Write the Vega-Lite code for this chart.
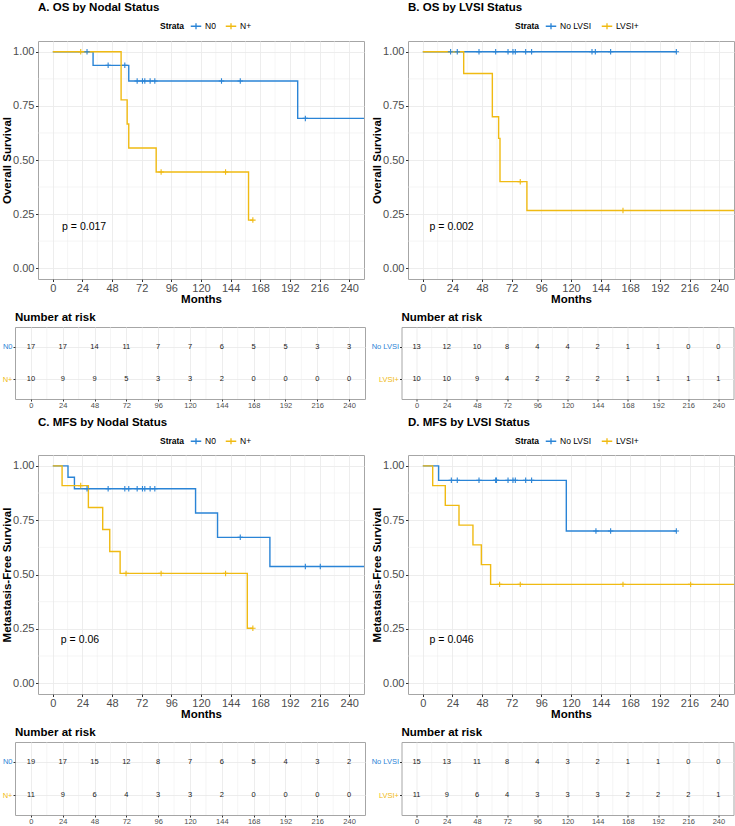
{
  "$schema": "https://vega.github.io/schema/vega-lite/v6.json",
  "padding": {"left": 0, "top": 1, "right": 0, "bottom": 0},
  "config": {
    "font": "Liberation Sans",
    "view": {"stroke": "#A6A6A6", "strokeWidth": 1},
    "title": {"fontSize": 11.5, "fontWeight": "bold", "color": "#000000", "font": "Liberation Sans"},
    "axis": {"labelFont": "Liberation Sans", "titleFont": "Liberation Sans", "domain": false, "gridColor": "#EBEBEB", "gridWidth": 0.9, "tickColor": "#333333", "labelColor": "#4D4D4D", "titleColor": "#000000", "titleFontWeight": "bold", "labelOverlap": false, "labelFlush": false},
    "legend": {"labelFont": "Liberation Sans", "titleFont": "Liberation Sans"}
  },
  "datasets": {
    "minorT": [{"m": 12}, {"m": 36}, {"m": 60}, {"m": 84}, {"m": 108}, {"m": 132}, {"m": 156}, {"m": 180}, {"m": 204}, {"m": 228}],
    "minorS": [{"m": 0.125}, {"m": 0.375}, {"m": 0.625}, {"m": 0.875}],
    "km": [
      {"p": "A", "g": "N0", "t": 0, "s": 1, "c": 0},
      {"p": "A", "g": "N0", "t": 27.7, "s": 1, "c": 1},
      {"p": "A", "g": "N0", "t": 32.6, "s": 0.9375, "c": 0},
      {"p": "A", "g": "N0", "t": 44.8, "s": 0.9375, "c": 1},
      {"p": "A", "g": "N0", "t": 58.3, "s": 0.9375, "c": 1},
      {"p": "A", "g": "N0", "t": 61.5, "s": 0.8654, "c": 0},
      {"p": "A", "g": "N0", "t": 68.3, "s": 0.8654, "c": 1},
      {"p": "A", "g": "N0", "t": 72.6, "s": 0.8654, "c": 1},
      {"p": "A", "g": "N0", "t": 74.5, "s": 0.8654, "c": 1},
      {"p": "A", "g": "N0", "t": 78.8, "s": 0.8654, "c": 1},
      {"p": "A", "g": "N0", "t": 82.6, "s": 0.8654, "c": 1},
      {"p": "A", "g": "N0", "t": 136.6, "s": 0.8654, "c": 1},
      {"p": "A", "g": "N0", "t": 151.8, "s": 0.8654, "c": 1},
      {"p": "A", "g": "N0", "t": 198.3, "s": 0.6923, "c": 0},
      {"p": "A", "g": "N0", "t": 204.5, "s": 0.6923, "c": 1},
      {"p": "A", "g": "N0", "t": 260, "s": 0.6923, "c": 1},
      {"p": "A", "g": "N+", "t": 0, "s": 1, "c": 0},
      {"p": "A", "g": "N+", "t": 22.6, "s": 1, "c": 1},
      {"p": "A", "g": "N+", "t": 55.3, "s": 0.7778, "c": 0},
      {"p": "A", "g": "N+", "t": 60.2, "s": 0.6667, "c": 0},
      {"p": "A", "g": "N+", "t": 61.5, "s": 0.5556, "c": 0},
      {"p": "A", "g": "N+", "t": 83.7, "s": 0.4444, "c": 0},
      {"p": "A", "g": "N+", "t": 87.7, "s": 0.4444, "c": 1},
      {"p": "A", "g": "N+", "t": 139.9, "s": 0.4444, "c": 1},
      {"p": "A", "g": "N+", "t": 158.5, "s": 0.2222, "c": 0},
      {"p": "A", "g": "N+", "t": 162.0, "s": 0.2222, "c": 1},
      {"p": "B", "g": "No LVSI", "t": 0, "s": 1, "c": 0},
      {"p": "B", "g": "No LVSI", "t": 22.5, "s": 1, "c": 1},
      {"p": "B", "g": "No LVSI", "t": 27.9, "s": 1, "c": 1},
      {"p": "B", "g": "No LVSI", "t": 45.5, "s": 1, "c": 1},
      {"p": "B", "g": "No LVSI", "t": 59.0, "s": 1, "c": 1},
      {"p": "B", "g": "No LVSI", "t": 69.0, "s": 1, "c": 1},
      {"p": "B", "g": "No LVSI", "t": 73.0, "s": 1, "c": 1},
      {"p": "B", "g": "No LVSI", "t": 74.9, "s": 1, "c": 1},
      {"p": "B", "g": "No LVSI", "t": 83.3, "s": 1, "c": 1},
      {"p": "B", "g": "No LVSI", "t": 88.1, "s": 1, "c": 1},
      {"p": "B", "g": "No LVSI", "t": 137.0, "s": 1, "c": 1},
      {"p": "B", "g": "No LVSI", "t": 139.7, "s": 1, "c": 1},
      {"p": "B", "g": "No LVSI", "t": 152.1, "s": 1, "c": 1},
      {"p": "B", "g": "No LVSI", "t": 205.3, "s": 1, "c": 1},
      {"p": "B", "g": "LVSI+", "t": 0, "s": 1, "c": 0},
      {"p": "B", "g": "LVSI+", "t": 33.1, "s": 0.9, "c": 0},
      {"p": "B", "g": "LVSI+", "t": 56.3, "s": 0.7, "c": 0},
      {"p": "B", "g": "LVSI+", "t": 61.4, "s": 0.6, "c": 0},
      {"p": "B", "g": "LVSI+", "t": 62.5, "s": 0.4, "c": 0},
      {"p": "B", "g": "LVSI+", "t": 78.9, "s": 0.4, "c": 1},
      {"p": "B", "g": "LVSI+", "t": 84.3, "s": 0.2667, "c": 0},
      {"p": "B", "g": "LVSI+", "t": 162.1, "s": 0.2667, "c": 1},
      {"p": "B", "g": "LVSI+", "t": 260, "s": 0.2667, "c": 1},
      {"p": "C", "g": "N0", "t": 0, "s": 1, "c": 0},
      {"p": "C", "g": "N0", "t": 12.3, "s": 0.9474, "c": 0},
      {"p": "C", "g": "N0", "t": 17.5, "s": 0.8947, "c": 0},
      {"p": "C", "g": "N0", "t": 27.7, "s": 0.8947, "c": 1},
      {"p": "C", "g": "N0", "t": 44.8, "s": 0.8947, "c": 1},
      {"p": "C", "g": "N0", "t": 58.3, "s": 0.8947, "c": 1},
      {"p": "C", "g": "N0", "t": 61.5, "s": 0.8947, "c": 1},
      {"p": "C", "g": "N0", "t": 68.3, "s": 0.8947, "c": 1},
      {"p": "C", "g": "N0", "t": 72.6, "s": 0.8947, "c": 1},
      {"p": "C", "g": "N0", "t": 74.5, "s": 0.8947, "c": 1},
      {"p": "C", "g": "N0", "t": 78.8, "s": 0.8947, "c": 1},
      {"p": "C", "g": "N0", "t": 82.6, "s": 0.8947, "c": 1},
      {"p": "C", "g": "N0", "t": 115.6, "s": 0.7829, "c": 0},
      {"p": "C", "g": "N0", "t": 133.4, "s": 0.6711, "c": 0},
      {"p": "C", "g": "N0", "t": 151.8, "s": 0.6711, "c": 1},
      {"p": "C", "g": "N0", "t": 175.8, "s": 0.5368, "c": 0},
      {"p": "C", "g": "N0", "t": 204.5, "s": 0.5368, "c": 1},
      {"p": "C", "g": "N0", "t": 216.6, "s": 0.5368, "c": 1},
      {"p": "C", "g": "N0", "t": 260, "s": 0.5368, "c": 1},
      {"p": "C", "g": "N+", "t": 0, "s": 1, "c": 0},
      {"p": "C", "g": "N+", "t": 7.5, "s": 0.9091, "c": 0},
      {"p": "C", "g": "N+", "t": 22.6, "s": 0.9091, "c": 1},
      {"p": "C", "g": "N+", "t": 28.8, "s": 0.8081, "c": 0},
      {"p": "C", "g": "N+", "t": 40.4, "s": 0.7071, "c": 0},
      {"p": "C", "g": "N+", "t": 46.1, "s": 0.6061, "c": 0},
      {"p": "C", "g": "N+", "t": 54.5, "s": 0.5051, "c": 0},
      {"p": "C", "g": "N+", "t": 59.3, "s": 0.5051, "c": 1},
      {"p": "C", "g": "N+", "t": 87.7, "s": 0.5051, "c": 1},
      {"p": "C", "g": "N+", "t": 139.9, "s": 0.5051, "c": 1},
      {"p": "C", "g": "N+", "t": 157.5, "s": 0.2525, "c": 0},
      {"p": "C", "g": "N+", "t": 162.0, "s": 0.2525, "c": 1},
      {"p": "D", "g": "No LVSI", "t": 0, "s": 1, "c": 0},
      {"p": "D", "g": "No LVSI", "t": 12.8, "s": 0.9333, "c": 0},
      {"p": "D", "g": "No LVSI", "t": 23.1, "s": 0.9333, "c": 1},
      {"p": "D", "g": "No LVSI", "t": 27.9, "s": 0.9333, "c": 1},
      {"p": "D", "g": "No LVSI", "t": 45.5, "s": 0.9333, "c": 1},
      {"p": "D", "g": "No LVSI", "t": 59.0, "s": 0.9333, "c": 1},
      {"p": "D", "g": "No LVSI", "t": 59.6, "s": 0.9333, "c": 1},
      {"p": "D", "g": "No LVSI", "t": 69.0, "s": 0.9333, "c": 1},
      {"p": "D", "g": "No LVSI", "t": 73.0, "s": 0.9333, "c": 1},
      {"p": "D", "g": "No LVSI", "t": 74.9, "s": 0.9333, "c": 1},
      {"p": "D", "g": "No LVSI", "t": 83.3, "s": 0.9333, "c": 1},
      {"p": "D", "g": "No LVSI", "t": 88.1, "s": 0.9333, "c": 1},
      {"p": "D", "g": "No LVSI", "t": 116.2, "s": 0.7, "c": 0},
      {"p": "D", "g": "No LVSI", "t": 140.2, "s": 0.7, "c": 1},
      {"p": "D", "g": "No LVSI", "t": 152.1, "s": 0.7, "c": 1},
      {"p": "D", "g": "No LVSI", "t": 205.3, "s": 0.7, "c": 1},
      {"p": "D", "g": "LVSI+", "t": 0, "s": 1, "c": 0},
      {"p": "D", "g": "LVSI+", "t": 8.0, "s": 0.9091, "c": 0},
      {"p": "D", "g": "LVSI+", "t": 18.2, "s": 0.8182, "c": 0},
      {"p": "D", "g": "LVSI+", "t": 29.3, "s": 0.7273, "c": 0},
      {"p": "D", "g": "LVSI+", "t": 40.6, "s": 0.6364, "c": 0},
      {"p": "D", "g": "LVSI+", "t": 47.4, "s": 0.5455, "c": 0},
      {"p": "D", "g": "LVSI+", "t": 54.9, "s": 0.4545, "c": 0},
      {"p": "D", "g": "LVSI+", "t": 62.2, "s": 0.4545, "c": 1},
      {"p": "D", "g": "LVSI+", "t": 78.9, "s": 0.4545, "c": 1},
      {"p": "D", "g": "LVSI+", "t": 162.1, "s": 0.4545, "c": 1},
      {"p": "D", "g": "LVSI+", "t": 216.9, "s": 0.4545, "c": 1},
      {"p": "D", "g": "LVSI+", "t": 260, "s": 0.4545, "c": 1}
    ],
    "risk": [
      {"p": "A", "g": "N0", "t": 0, "n": 17}, {"p": "A", "g": "N0", "t": 24, "n": 17}, {"p": "A", "g": "N0", "t": 48, "n": 14}, {"p": "A", "g": "N0", "t": 72, "n": 11}, {"p": "A", "g": "N0", "t": 96, "n": 7}, {"p": "A", "g": "N0", "t": 120, "n": 7}, {"p": "A", "g": "N0", "t": 144, "n": 6}, {"p": "A", "g": "N0", "t": 168, "n": 5}, {"p": "A", "g": "N0", "t": 192, "n": 5}, {"p": "A", "g": "N0", "t": 216, "n": 3}, {"p": "A", "g": "N0", "t": 240, "n": 3},
      {"p": "A", "g": "N+", "t": 0, "n": 10}, {"p": "A", "g": "N+", "t": 24, "n": 9}, {"p": "A", "g": "N+", "t": 48, "n": 9}, {"p": "A", "g": "N+", "t": 72, "n": 5}, {"p": "A", "g": "N+", "t": 96, "n": 3}, {"p": "A", "g": "N+", "t": 120, "n": 3}, {"p": "A", "g": "N+", "t": 144, "n": 2}, {"p": "A", "g": "N+", "t": 168, "n": 0}, {"p": "A", "g": "N+", "t": 192, "n": 0}, {"p": "A", "g": "N+", "t": 216, "n": 0}, {"p": "A", "g": "N+", "t": 240, "n": 0},
      {"p": "B", "g": "No LVSI", "t": 0, "n": 13}, {"p": "B", "g": "No LVSI", "t": 24, "n": 12}, {"p": "B", "g": "No LVSI", "t": 48, "n": 10}, {"p": "B", "g": "No LVSI", "t": 72, "n": 8}, {"p": "B", "g": "No LVSI", "t": 96, "n": 4}, {"p": "B", "g": "No LVSI", "t": 120, "n": 4}, {"p": "B", "g": "No LVSI", "t": 144, "n": 2}, {"p": "B", "g": "No LVSI", "t": 168, "n": 1}, {"p": "B", "g": "No LVSI", "t": 192, "n": 1}, {"p": "B", "g": "No LVSI", "t": 216, "n": 0}, {"p": "B", "g": "No LVSI", "t": 240, "n": 0},
      {"p": "B", "g": "LVSI+", "t": 0, "n": 10}, {"p": "B", "g": "LVSI+", "t": 24, "n": 10}, {"p": "B", "g": "LVSI+", "t": 48, "n": 9}, {"p": "B", "g": "LVSI+", "t": 72, "n": 4}, {"p": "B", "g": "LVSI+", "t": 96, "n": 2}, {"p": "B", "g": "LVSI+", "t": 120, "n": 2}, {"p": "B", "g": "LVSI+", "t": 144, "n": 2}, {"p": "B", "g": "LVSI+", "t": 168, "n": 1}, {"p": "B", "g": "LVSI+", "t": 192, "n": 1}, {"p": "B", "g": "LVSI+", "t": 216, "n": 1}, {"p": "B", "g": "LVSI+", "t": 240, "n": 1},
      {"p": "C", "g": "N0", "t": 0, "n": 19}, {"p": "C", "g": "N0", "t": 24, "n": 17}, {"p": "C", "g": "N0", "t": 48, "n": 15}, {"p": "C", "g": "N0", "t": 72, "n": 12}, {"p": "C", "g": "N0", "t": 96, "n": 8}, {"p": "C", "g": "N0", "t": 120, "n": 7}, {"p": "C", "g": "N0", "t": 144, "n": 6}, {"p": "C", "g": "N0", "t": 168, "n": 5}, {"p": "C", "g": "N0", "t": 192, "n": 4}, {"p": "C", "g": "N0", "t": 216, "n": 3}, {"p": "C", "g": "N0", "t": 240, "n": 2},
      {"p": "C", "g": "N+", "t": 0, "n": 11}, {"p": "C", "g": "N+", "t": 24, "n": 9}, {"p": "C", "g": "N+", "t": 48, "n": 6}, {"p": "C", "g": "N+", "t": 72, "n": 4}, {"p": "C", "g": "N+", "t": 96, "n": 3}, {"p": "C", "g": "N+", "t": 120, "n": 3}, {"p": "C", "g": "N+", "t": 144, "n": 2}, {"p": "C", "g": "N+", "t": 168, "n": 0}, {"p": "C", "g": "N+", "t": 192, "n": 0}, {"p": "C", "g": "N+", "t": 216, "n": 0}, {"p": "C", "g": "N+", "t": 240, "n": 0},
      {"p": "D", "g": "No LVSI", "t": 0, "n": 15}, {"p": "D", "g": "No LVSI", "t": 24, "n": 13}, {"p": "D", "g": "No LVSI", "t": 48, "n": 11}, {"p": "D", "g": "No LVSI", "t": 72, "n": 8}, {"p": "D", "g": "No LVSI", "t": 96, "n": 4}, {"p": "D", "g": "No LVSI", "t": 120, "n": 3}, {"p": "D", "g": "No LVSI", "t": 144, "n": 2}, {"p": "D", "g": "No LVSI", "t": 168, "n": 1}, {"p": "D", "g": "No LVSI", "t": 192, "n": 1}, {"p": "D", "g": "No LVSI", "t": 216, "n": 0}, {"p": "D", "g": "No LVSI", "t": 240, "n": 0},
      {"p": "D", "g": "LVSI+", "t": 0, "n": 11}, {"p": "D", "g": "LVSI+", "t": 24, "n": 9}, {"p": "D", "g": "LVSI+", "t": 48, "n": 6}, {"p": "D", "g": "LVSI+", "t": 72, "n": 4}, {"p": "D", "g": "LVSI+", "t": 96, "n": 3}, {"p": "D", "g": "LVSI+", "t": 120, "n": 3}, {"p": "D", "g": "LVSI+", "t": 144, "n": 3}, {"p": "D", "g": "LVSI+", "t": 168, "n": 2}, {"p": "D", "g": "LVSI+", "t": 192, "n": 2}, {"p": "D", "g": "LVSI+", "t": 216, "n": 2}, {"p": "D", "g": "LVSI+", "t": 240, "n": 1}
    ]
  },
  "resolve": {"scale": {"color": "independent"}, "legend": {"color": "independent"}},
  "columns": 2,
  "align": "none",
  "spacing": {"row": 6, "column": 0},
  "concat": [
    {"width": 1, "height": 1, "view": {"stroke": null}, "data": {"values": [{}]}, "mark": {"type": "rect", "opacity": 0}, "encoding": {}},
    {
      "resolve": {"scale": {"color": "independent"}, "legend": {"color": "independent"}},
      "spacing": 6,
      "hconcat": [
        {
          "width": 326, "height": 238,
          "title": {"text": "A. OS by Nodal Status", "anchor": "start", "frame": "group", "offset": 7},
          "layer": [
            {"data": {"name": "minorT"}, "mark": {"type": "rule", "color": "#EBEBEB", "strokeWidth": 0.5}, "encoding": {"x": {"field": "m", "type": "quantitative"}}},
            {"data": {"name": "minorS"}, "mark": {"type": "rule", "color": "#EBEBEB", "strokeWidth": 0.5}, "encoding": {"y": {"field": "m", "type": "quantitative"}}},
            {
              "data": {"name": "km"},
              "transform": [{"filter": "datum.p === 'A'"}],
              "mark": {"type": "line", "interpolate": "step-after", "clip": true, "strokeWidth": 1.4},
              "encoding": {
                "x": {"field": "t", "type": "quantitative", "scale": {"domain": [-12, 252], "nice": false, "zero": false},
                  "axis": {"title": "Months", "values": [0, 24, 48, 72, 96, 120, 144, 168, 192, 216, 240], "tickCount": 30, "labelOverlap": false, "tickSize": 2.5, "labelPadding": 0.5, "labelFontSize": 11, "titleFontSize": 11.5, "titlePadding": 0}},
                "y": {"field": "s", "type": "quantitative", "scale": {"domain": [-0.05, 1.05], "nice": false, "zero": false},
                  "axis": {"title": "Overall Survival", "values": [0, 0.25, 0.5, 0.75, 1], "tickCount": 30, "format": ".2f", "labelOverlap": false, "tickSize": 2.5, "labelPadding": 1.5, "labelFontSize": 11, "titleFontSize": 11.5, "titlePadding": 0, "minExtent": 25.5, "maxExtent": 25.5}},
                "color": {"field": "g", "type": "nominal", "scale": {"domain": ["N0", "N+"], "range": ["#2A84D6", "#F0BA12"]},
                  "legend": {"orient": "none", "legendX": 122, "legendY": -21, "direction": "horizontal", "title": "Strata", "titleOrient": "left", "titleFontSize": 8.5, "titleFontWeight": "bold", "titleColor": "#000000", "labelFontSize": 8.5, "labelColor": "#000000", "symbolType": "M-1,0L1,0M0,-0.55L0,0.55", "symbolSize": 110, "symbolStrokeWidth": 1.3, "columnPadding": 7, "labelOffset": 3, "titlePadding": 5}}
              }
            },
            {
              "data": {"name": "km"},
              "transform": [{"filter": "datum.p === 'A' && datum.c === 1"}],
              "mark": {"type": "point", "shape": "M-1,0L1,0M0,-1L0,1", "size": 30, "filled": false, "strokeWidth": 1.1, "opacity": 1, "clip": true},
              "encoding": {"x": {"field": "t", "type": "quantitative"}, "y": {"field": "s", "type": "quantitative"}, "color": {"field": "g", "type": "nominal"}}
            },
            {
              "data": {"values": [{"label": "p = 0.017"}]},
              "mark": {"type": "text", "align": "left", "baseline": "middle", "fontSize": 10.5, "color": "#000000"},
              "encoding": {"x": {"datum": 7.5}, "y": {"datum": 0.19}, "text": {"field": "label"}}
            }
          ]
        },
        {
          "width": 326, "height": 238,
          "title": {"text": "B. OS by LVSI Status", "anchor": "start", "frame": "group", "offset": 7},
          "layer": [
            {"data": {"name": "minorT"}, "mark": {"type": "rule", "color": "#EBEBEB", "strokeWidth": 0.5}, "encoding": {"x": {"field": "m", "type": "quantitative"}}},
            {"data": {"name": "minorS"}, "mark": {"type": "rule", "color": "#EBEBEB", "strokeWidth": 0.5}, "encoding": {"y": {"field": "m", "type": "quantitative"}}},
            {
              "data": {"name": "km"},
              "transform": [{"filter": "datum.p === 'B'"}],
              "mark": {"type": "line", "interpolate": "step-after", "clip": true, "strokeWidth": 1.4},
              "encoding": {
                "x": {"field": "t", "type": "quantitative", "scale": {"domain": [-12, 252], "nice": false, "zero": false},
                  "axis": {"title": "Months", "values": [0, 24, 48, 72, 96, 120, 144, 168, 192, 216, 240], "tickCount": 30, "labelOverlap": false, "tickSize": 2.5, "labelPadding": 0.5, "labelFontSize": 11, "titleFontSize": 11.5, "titlePadding": 0}},
                "y": {"field": "s", "type": "quantitative", "scale": {"domain": [-0.05, 1.05], "nice": false, "zero": false},
                  "axis": {"title": "Overall Survival", "values": [0, 0.25, 0.5, 0.75, 1], "tickCount": 30, "format": ".2f", "labelOverlap": false, "tickSize": 2.5, "labelPadding": 1.5, "labelFontSize": 11, "titleFontSize": 11.5, "titlePadding": 0, "minExtent": 25.5, "maxExtent": 25.5}},
                "color": {"field": "g", "type": "nominal", "scale": {"domain": ["No LVSI", "LVSI+"], "range": ["#2A84D6", "#F0BA12"]},
                  "legend": {"orient": "none", "legendX": 107, "legendY": -21, "direction": "horizontal", "title": "Strata", "titleOrient": "left", "titleFontSize": 8.5, "titleFontWeight": "bold", "titleColor": "#000000", "labelFontSize": 8.5, "labelColor": "#000000", "symbolType": "M-1,0L1,0M0,-0.55L0,0.55", "symbolSize": 110, "symbolStrokeWidth": 1.3, "columnPadding": 7, "labelOffset": 3, "titlePadding": 5}}
              }
            },
            {
              "data": {"name": "km"},
              "transform": [{"filter": "datum.p === 'B' && datum.c === 1"}],
              "mark": {"type": "point", "shape": "M-1,0L1,0M0,-1L0,1", "size": 30, "filled": false, "strokeWidth": 1.1, "opacity": 1, "clip": true},
              "encoding": {"x": {"field": "t", "type": "quantitative"}, "y": {"field": "s", "type": "quantitative"}, "color": {"field": "g", "type": "nominal"}}
            },
            {
              "data": {"values": [{"label": "p = 0.002"}]},
              "mark": {"type": "text", "align": "left", "baseline": "middle", "fontSize": 10.5, "color": "#000000"},
              "encoding": {"x": {"datum": 5.5}, "y": {"datum": 0.19}, "text": {"field": "label"}}
            }
          ]
        }
      ]
    },
    {"width": 1, "height": 1, "view": {"stroke": null}, "data": {"values": [{}]}, "mark": {"type": "rect", "opacity": 0}, "encoding": {}},
    {
      "spacing": 4.5,
      "hconcat": [
        {
          "width": 350, "height": 72,
          "title": {"text": "Number at risk", "anchor": "start", "frame": "group", "offset": 3},
          "layer": [
            {"data": {"name": "minorT"}, "mark": {"type": "rule", "color": "#EBEBEB", "strokeWidth": 0.5}, "encoding": {"x": {"field": "m", "type": "quantitative"}}},
            {
              "data": {"name": "risk"},
              "transform": [{"filter": "datum.p === 'A'"}],
              "mark": {"type": "text", "fontSize": 7.5, "color": "#1A1A1A", "baseline": "middle"},
              "encoding": {
                "x": {"field": "t", "type": "quantitative", "scale": {"domain": [-12, 252], "nice": false, "zero": false},
                  "axis": {"title": null, "values": [0, 24, 48, 72, 96, 120, 144, 168, 192, 216, 240], "tickCount": 30, "labelOverlap": false, "tickSize": 2, "labelPadding": 0.5, "labelFontSize": 7.5}},
                "y": {"field": "g", "type": "nominal", "scale": {"type": "point", "domain": ["N0", "N+"], "padding": 0.6},
                  "axis": {"title": null, "grid": true, "tickSize": 2, "labelPadding": 1, "labelFontSize": 7.5, "labelColor": {"condition": {"test": "datum.value === 'N0'", "value": "#2A84D6"}, "value": "#F0BA12"}}},
                "text": {"field": "n", "type": "quantitative"}
              }
            }
          ]
        },
        {
          "width": 332, "height": 72,
          "title": {"text": "Number at risk", "anchor": "start", "frame": "group", "offset": 3},
          "layer": [
            {"data": {"name": "minorT"}, "mark": {"type": "rule", "color": "#EBEBEB", "strokeWidth": 0.5}, "encoding": {"x": {"field": "m", "type": "quantitative"}}},
            {
              "data": {"name": "risk"},
              "transform": [{"filter": "datum.p === 'B'"}],
              "mark": {"type": "text", "fontSize": 7.5, "color": "#1A1A1A", "baseline": "middle"},
              "encoding": {
                "x": {"field": "t", "type": "quantitative", "scale": {"domain": [-12, 252], "nice": false, "zero": false},
                  "axis": {"title": null, "values": [0, 24, 48, 72, 96, 120, 144, 168, 192, 216, 240], "tickCount": 30, "labelOverlap": false, "tickSize": 2, "labelPadding": 0.5, "labelFontSize": 7.5}},
                "y": {"field": "g", "type": "nominal", "scale": {"type": "point", "domain": ["No LVSI", "LVSI+"], "padding": 0.6},
                  "axis": {"title": null, "grid": true, "tickSize": 2, "labelPadding": 1, "labelFontSize": 7.5, "labelColor": {"condition": {"test": "datum.value === 'No LVSI'", "value": "#2A84D6"}, "value": "#F0BA12"}}},
                "text": {"field": "n", "type": "quantitative"}
              }
            }
          ]
        }
      ]
    },
    {"width": 1, "height": 1, "view": {"stroke": null}, "data": {"values": [{}]}, "mark": {"type": "rect", "opacity": 0}, "encoding": {}},
    {
      "resolve": {"scale": {"color": "independent"}, "legend": {"color": "independent"}},
      "spacing": 6,
      "hconcat": [
        {
          "width": 326, "height": 239,
          "title": {"text": "C. MFS by Nodal Status", "anchor": "start", "frame": "group", "offset": 7},
          "layer": [
            {"data": {"name": "minorT"}, "mark": {"type": "rule", "color": "#EBEBEB", "strokeWidth": 0.5}, "encoding": {"x": {"field": "m", "type": "quantitative"}}},
            {"data": {"name": "minorS"}, "mark": {"type": "rule", "color": "#EBEBEB", "strokeWidth": 0.5}, "encoding": {"y": {"field": "m", "type": "quantitative"}}},
            {
              "data": {"name": "km"},
              "transform": [{"filter": "datum.p === 'C'"}],
              "mark": {"type": "line", "interpolate": "step-after", "clip": true, "strokeWidth": 1.4},
              "encoding": {
                "x": {"field": "t", "type": "quantitative", "scale": {"domain": [-12, 252], "nice": false, "zero": false},
                  "axis": {"title": "Months", "values": [0, 24, 48, 72, 96, 120, 144, 168, 192, 216, 240], "tickCount": 30, "labelOverlap": false, "tickSize": 2.5, "labelPadding": 0.5, "labelFontSize": 11, "titleFontSize": 11.5, "titlePadding": 0}},
                "y": {"field": "s", "type": "quantitative", "scale": {"domain": [-0.05, 1.05], "nice": false, "zero": false},
                  "axis": {"title": "Metastasis-Free Survival", "values": [0, 0.25, 0.5, 0.75, 1], "tickCount": 30, "format": ".2f", "labelOverlap": false, "tickSize": 2.5, "labelPadding": 1.5, "labelFontSize": 11, "titleFontSize": 11.5, "titlePadding": 0, "minExtent": 25.5, "maxExtent": 25.5}},
                "color": {"field": "g", "type": "nominal", "scale": {"domain": ["N0", "N+"], "range": ["#2A84D6", "#F0BA12"]},
                  "legend": {"orient": "none", "legendX": 122, "legendY": -20, "direction": "horizontal", "title": "Strata", "titleOrient": "left", "titleFontSize": 8.5, "titleFontWeight": "bold", "titleColor": "#000000", "labelFontSize": 8.5, "labelColor": "#000000", "symbolType": "M-1,0L1,0M0,-0.55L0,0.55", "symbolSize": 110, "symbolStrokeWidth": 1.3, "columnPadding": 7, "labelOffset": 3, "titlePadding": 5}}
              }
            },
            {
              "data": {"name": "km"},
              "transform": [{"filter": "datum.p === 'C' && datum.c === 1"}],
              "mark": {"type": "point", "shape": "M-1,0L1,0M0,-1L0,1", "size": 30, "filled": false, "strokeWidth": 1.1, "opacity": 1, "clip": true},
              "encoding": {"x": {"field": "t", "type": "quantitative"}, "y": {"field": "s", "type": "quantitative"}, "color": {"field": "g", "type": "nominal"}}
            },
            {
              "data": {"values": [{"label": "p = 0.06"}]},
              "mark": {"type": "text", "align": "left", "baseline": "middle", "fontSize": 10.5, "color": "#000000"},
              "encoding": {"x": {"datum": 6.5}, "y": {"datum": 0.2}, "text": {"field": "label"}}
            }
          ]
        },
        {
          "width": 326, "height": 239,
          "title": {"text": "D. MFS by LVSI Status", "anchor": "start", "frame": "group", "offset": 7},
          "layer": [
            {"data": {"name": "minorT"}, "mark": {"type": "rule", "color": "#EBEBEB", "strokeWidth": 0.5}, "encoding": {"x": {"field": "m", "type": "quantitative"}}},
            {"data": {"name": "minorS"}, "mark": {"type": "rule", "color": "#EBEBEB", "strokeWidth": 0.5}, "encoding": {"y": {"field": "m", "type": "quantitative"}}},
            {
              "data": {"name": "km"},
              "transform": [{"filter": "datum.p === 'D'"}],
              "mark": {"type": "line", "interpolate": "step-after", "clip": true, "strokeWidth": 1.4},
              "encoding": {
                "x": {"field": "t", "type": "quantitative", "scale": {"domain": [-12, 252], "nice": false, "zero": false},
                  "axis": {"title": "Months", "values": [0, 24, 48, 72, 96, 120, 144, 168, 192, 216, 240], "tickCount": 30, "labelOverlap": false, "tickSize": 2.5, "labelPadding": 0.5, "labelFontSize": 11, "titleFontSize": 11.5, "titlePadding": 0}},
                "y": {"field": "s", "type": "quantitative", "scale": {"domain": [-0.05, 1.05], "nice": false, "zero": false},
                  "axis": {"title": "Metastasis-Free Survival", "values": [0, 0.25, 0.5, 0.75, 1], "tickCount": 30, "format": ".2f", "labelOverlap": false, "tickSize": 2.5, "labelPadding": 1.5, "labelFontSize": 11, "titleFontSize": 11.5, "titlePadding": 0, "minExtent": 25.5, "maxExtent": 25.5}},
                "color": {"field": "g", "type": "nominal", "scale": {"domain": ["No LVSI", "LVSI+"], "range": ["#2A84D6", "#F0BA12"]},
                  "legend": {"orient": "none", "legendX": 107, "legendY": -20, "direction": "horizontal", "title": "Strata", "titleOrient": "left", "titleFontSize": 8.5, "titleFontWeight": "bold", "titleColor": "#000000", "labelFontSize": 8.5, "labelColor": "#000000", "symbolType": "M-1,0L1,0M0,-0.55L0,0.55", "symbolSize": 110, "symbolStrokeWidth": 1.3, "columnPadding": 7, "labelOffset": 3, "titlePadding": 5}}
              }
            },
            {
              "data": {"name": "km"},
              "transform": [{"filter": "datum.p === 'D' && datum.c === 1"}],
              "mark": {"type": "point", "shape": "M-1,0L1,0M0,-1L0,1", "size": 30, "filled": false, "strokeWidth": 1.1, "opacity": 1, "clip": true},
              "encoding": {"x": {"field": "t", "type": "quantitative"}, "y": {"field": "s", "type": "quantitative"}, "color": {"field": "g", "type": "nominal"}}
            },
            {
              "data": {"values": [{"label": "p = 0.046"}]},
              "mark": {"type": "text", "align": "left", "baseline": "middle", "fontSize": 10.5, "color": "#000000"},
              "encoding": {"x": {"datum": 5.5}, "y": {"datum": 0.2}, "text": {"field": "label"}}
            }
          ]
        }
      ]
    },
    {"width": 1, "height": 1, "view": {"stroke": null}, "data": {"values": [{}]}, "mark": {"type": "rect", "opacity": 0}, "encoding": {}},
    {
      "spacing": 4.5,
      "hconcat": [
        {
          "width": 350, "height": 73,
          "title": {"text": "Number at risk", "anchor": "start", "frame": "group", "offset": 3},
          "layer": [
            {"data": {"name": "minorT"}, "mark": {"type": "rule", "color": "#EBEBEB", "strokeWidth": 0.5}, "encoding": {"x": {"field": "m", "type": "quantitative"}}},
            {
              "data": {"name": "risk"},
              "transform": [{"filter": "datum.p === 'C'"}],
              "mark": {"type": "text", "fontSize": 7.5, "color": "#1A1A1A", "baseline": "middle"},
              "encoding": {
                "x": {"field": "t", "type": "quantitative", "scale": {"domain": [-12, 252], "nice": false, "zero": false},
                  "axis": {"title": null, "values": [0, 24, 48, 72, 96, 120, 144, 168, 192, 216, 240], "tickCount": 30, "labelOverlap": false, "tickSize": 2, "labelPadding": 0.5, "labelFontSize": 7.5}},
                "y": {"field": "g", "type": "nominal", "scale": {"type": "point", "domain": ["N0", "N+"], "padding": 0.6},
                  "axis": {"title": null, "grid": true, "tickSize": 2, "labelPadding": 1, "labelFontSize": 7.5, "labelColor": {"condition": {"test": "datum.value === 'N0'", "value": "#2A84D6"}, "value": "#F0BA12"}}},
                "text": {"field": "n", "type": "quantitative"}
              }
            }
          ]
        },
        {
          "width": 332, "height": 73,
          "title": {"text": "Number at risk", "anchor": "start", "frame": "group", "offset": 3},
          "layer": [
            {"data": {"name": "minorT"}, "mark": {"type": "rule", "color": "#EBEBEB", "strokeWidth": 0.5}, "encoding": {"x": {"field": "m", "type": "quantitative"}}},
            {
              "data": {"name": "risk"},
              "transform": [{"filter": "datum.p === 'D'"}],
              "mark": {"type": "text", "fontSize": 7.5, "color": "#1A1A1A", "baseline": "middle"},
              "encoding": {
                "x": {"field": "t", "type": "quantitative", "scale": {"domain": [-12, 252], "nice": false, "zero": false},
                  "axis": {"title": null, "values": [0, 24, 48, 72, 96, 120, 144, 168, 192, 216, 240], "tickCount": 30, "labelOverlap": false, "tickSize": 2, "labelPadding": 0.5, "labelFontSize": 7.5}},
                "y": {"field": "g", "type": "nominal", "scale": {"type": "point", "domain": ["No LVSI", "LVSI+"], "padding": 0.6},
                  "axis": {"title": null, "grid": true, "tickSize": 2, "labelPadding": 1, "labelFontSize": 7.5, "labelColor": {"condition": {"test": "datum.value === 'No LVSI'", "value": "#2A84D6"}, "value": "#F0BA12"}}},
                "text": {"field": "n", "type": "quantitative"}
              }
            }
          ]
        }
      ]
    }
  ]
}
